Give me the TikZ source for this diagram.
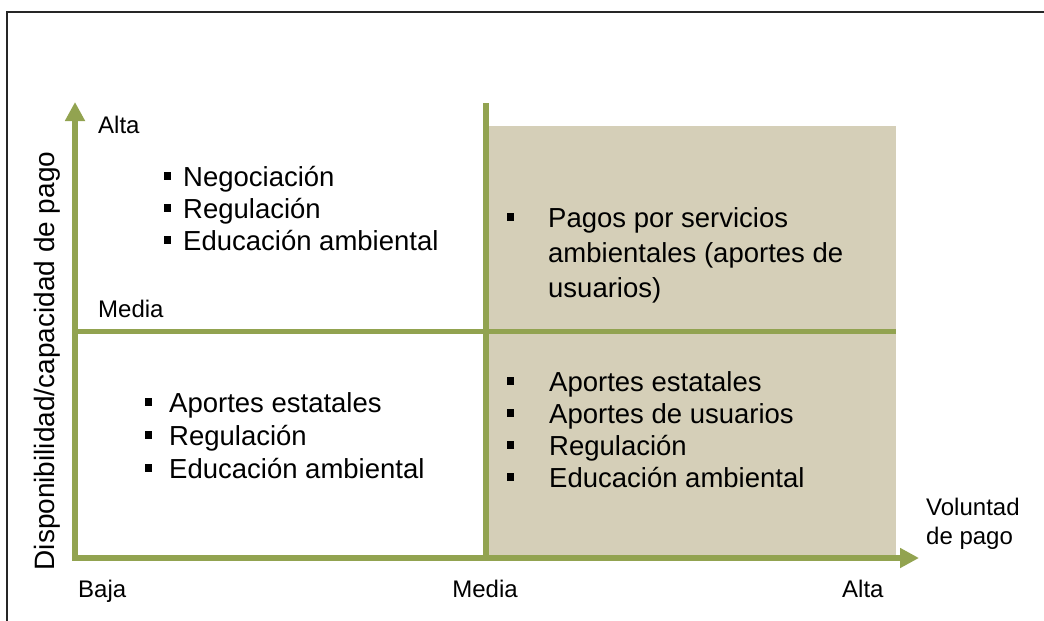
\documentclass[tikz,border=0pt]{standalone}
\usepackage{fontspec}
\setmainfont{Liberation Sans}
\usetikzlibrary{arrows.meta}
\definecolor{axisgreen}{HTML}{92A350}
\definecolor{quadtan}{HTML}{D5CFB8}
\newcommand{\itm}[1]{\llap{\rule[6.5pt]{7.5pt}{7.5pt}\hspace{#1}}}
\tikzset{
  axis/.style={draw=axisgreen, line width=6.5pt,
    {Triangle[length=19pt,width=19pt]}-{Triangle[length=19pt,width=19pt]}},
  divider/.style={draw=axisgreen, line width=5.5pt},
  lbl/.style={inner sep=0pt, font=\fontsize{24}{29}\selectfont},
  items/.style={inner sep=0pt, anchor=base west, align=left,
    font=\fontsize{27.5}{#1}\selectfont},
}

\begin{document}
\begin{tikzpicture}[x=1pt,y=-1pt]
    \useasboundingbox (0,0) rectangle (1044,621);
    \draw[line width=2pt, black!85] (6.5,630) -- (6.5,12) -- (1050,12);

    \coordinate (O) at (75,558);
    \coordinate (ytip) at (75,102);
    \coordinate (xtip) at (919,558);
    \coordinate (midtop) at (486,103);
    \coordinate (midbot) at (486,558);
    \coordinate (midleft) at (75,331.5);
    \coordinate (midright) at (896,331.5);

    \fill[quadtan] (486,126) rectangle (896,558);
    \draw[divider] (midtop) -- (midbot);
    \draw[divider] (midleft) -- (midright);
    \draw[axis] (ytip) |- (xtip);

    \node[lbl, anchor=base west] (yhigh) at (98,133) {Alta};
    \node[lbl, anchor=base west] (ymid) at (98,317) {Media};
    \node[lbl, anchor=base west] (xlow) at (78,597) {Baja};
    \node[lbl, anchor=base] (xmid) at (485,597) {Media};
    \node[lbl, anchor=base west] (xhigh) at (842,597) {Alta};
    \node[lbl, anchor=base west, align=left] (xname) at (926,544) {Voluntad\\de pago};
    \node[lbl, font=\fontsize{28}{33}\selectfont, rotate=90] (yname) at (47,361) {Disponibilidad/capacidad de pago};

    \node[items=32] (ul) at (183,250)
      {\itm{12pt}Negociación\\\itm{12pt}Regulación\\\itm{12pt}Educación ambiental};
    \node[items=33] (ll) at (169,478)
      {\itm{17pt}Aportes estatales\\\itm{17pt}Regulación\\\itm{17pt}Educación ambiental};
    \node[items=35] (ur) at (548,297)
      {\itm{34pt}Pagos por servicios\\ambientales (aportes de\\usuarios)};
    \node[items=32] (lr) at (549,487)
      {\itm{35pt}Aportes estatales\\\itm{35pt}Aportes de usuarios\\\itm{35pt}Regulación\\\itm{35pt}Educación ambiental};
\end{tikzpicture}
\end{document}
